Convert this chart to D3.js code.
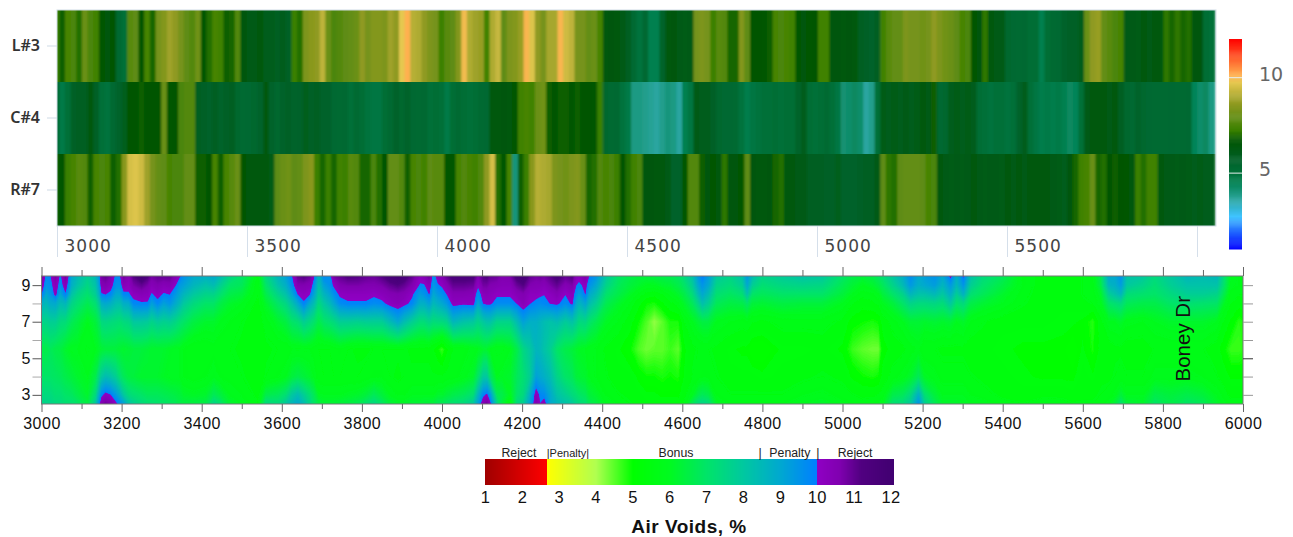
<html>
<script src='https://d3js.org/d3.v7.min.js'></script>
<style>
  body {margin:0; background:#fff;}
  svg {display:block;}
</style>
<body>
<svg class="chart" width=1293 height=537></svg>
<script>
// strip map: one value per bin along the lane, start station and bin size
var stripStart = 3000, stripStep = 14.9;
var rowNames = ["L#3", "C#4", "R#7"];
var rowL3 = [7.2,6.8,7.4,7.5,7.0,8.0,7.5,7.3,6.6,6.5,6.7,5.3,5.0,7.7,7.8,6.7,7.4,6.9,8.2,8.4,8.8,8.6,8.2,7.8,7.6,8.1,6.6,7.0,7.4,7.3,6.8,6.9,7.6,6.5,6.2,6.2,6.3,6.0,6.0,5.8,6.0,5.7,7.2,7.0,8.3,8.5,8.6,9.2,8.0,7.5,7.6,7.8,7.9,8.0,8.6,8.2,8.4,8.4,8.3,8.8,8.6,9.7,10.1,9.1,9.0,8.6,
  8.3,8.2,7.2,7.7,7.8,8.4,9.9,9.0,8.8,8.7,7.3,9.0,9.3,7.8,8.3,8.4,8.7,10.0,9.6,8.6,8.2,8.9,8.9,10.0,9.4,9.2,8.2,8.2,7.9,8.0,7.4,6.4,6.5,6.3,6.2,5.8,5.2,4.9,5.3,4.5,4.5,5.5,6.3,6.5,6.2,6.1,6.2,8.2,8.3,8.2,7.2,7.7,7.6,6.9,6.9,8.4,7.8,6.7,6.7,6.6,6.8,7.4,7.5,7.4,7.3,6.6,6.5,6.6,6.7,7.3,7.3,6.5,6.5,6.4,6.5,6.4,
  5.8,5.7,5.6,5.8,7.3,7.7,7.9,7.9,8.3,8.2,8.2,8.1,8.2,8.6,8.3,8.1,8.0,7.8,7.4,7.5,6.6,6.5,7.1,6.4,6.2,6.2,5.4,5.3,5.2,5.3,5.1,5.1,4.5,5.1,5.2,5.3,5.6,5.7,5.7,6.0,8.0,8.6,8.7,7.9,7.7,7.5,7.4,6.2,6.2,6.1,6.3,6.2,6.3,6.3,7.1,6.9,7.1,6.9,7.0,6.5,6.5,5.1,5.0];
var rowC4 = [5.3,4.7,5.0,5.7,5.8,5.8,6.3,5.7,5.0,4.9,5.3,5.5,5.9,6.7,6.7,6.8,6.7,6.7,6.7,8.0,6.6,6.7,7.5,7.6,7.6,5.8,5.7,5.6,5.8,5.5,5.7,5.8,5.4,5.2,5.3,5.4,5.5,6.3,5.5,5.4,5.6,5.7,5.5,5.6,5.9,5.7,5.8,5.6,5.6,5.3,5.2,5.3,5.0,5.2,5.1,4.9,4.8,4.8,5.1,5.3,5.6,5.4,5.5,5.3,5.2,5.3,
  5.0,5.1,5.0,4.7,5.1,5.2,5.1,5.0,5.1,5.2,5.3,6.4,6.3,6.5,6.4,6.6,7.3,7.4,7.3,8.0,8.1,6.8,6.7,6.8,6.8,6.6,6.8,6.7,6.7,6.6,7.2,5.4,5.2,5.3,4.9,4.7,3.9,3.9,3.8,3.7,3.6,3.8,4.0,3.9,3.6,4.5,4.8,6.2,6.0,6.0,5.7,5.4,5.3,5.3,5.2,4.9,4.6,4.8,4.9,5.0,5.0,5.1,5.0,5.1,5.1,5.5,6.0,5.1,5.0,5.1,5.2,5.0,4.8,4.1,4.2,4.3,
  4.2,3.6,3.8,5.0,6.1,6.0,6.1,6.0,6.2,6.0,6.1,6.3,6.2,6.8,5.3,5.4,6.0,6.1,6.0,6.1,6.0,5.1,5.0,4.9,5.0,5.0,4.9,5.0,5.5,6.0,5.0,4.8,4.6,4.7,4.6,4.7,4.5,4.3,4.4,5.0,6.2,6.3,6.4,6.3,6.2,6.3,5.8,5.4,5.3,5.5,5.4,5.3,5.2,5.2,5.2,5.3,5.2,5.2,5.3,4.4,4.2,4.3,3.9];
var rowR7 = [6.8,6.7,7.2,7.4,7.7,7.6,6.8,7.4,7.5,7.4,6.8,7.0,8.5,9.5,9.6,9.4,8.8,8.2,7.9,7.8,7.4,7.5,7.5,7.9,7.9,6.8,6.8,6.7,7.4,6.8,7.4,7.7,8.0,6.6,6.4,6.4,6.3,6.3,6.1,7.8,8.0,8.1,7.8,7.9,8.3,8.5,7.2,6.9,7.2,6.9,7.3,7.2,7.7,7.6,6.9,6.9,7.5,7.0,6.7,7.9,7.9,7.6,6.8,7.4,7.5,7.3,
  7.8,7.7,7.7,6.6,6.6,7.4,7.6,7.4,7.3,7.6,8.6,9.5,7.0,6.6,7.4,4.0,6.8,7.2,8.5,9.1,9.0,8.9,8.3,8.2,8.1,8.3,8.4,8.0,6.9,7.0,7.6,7.4,7.5,7.2,6.7,7.0,7.3,7.5,6.5,6.5,6.3,6.3,6.2,5.6,5.6,6.6,7.6,7.6,6.8,6.5,6.6,6.3,7.1,6.5,6.5,6.6,7.8,6.5,6.4,6.4,6.5,6.9,7.0,6.4,6.3,6.2,6.2,5.8,5.8,5.8,5.7,5.7,5.9,5.6,5.6,5.6,
  5.7,5.8,5.8,6.2,7.8,7.1,7.0,7.8,7.9,7.9,7.9,7.8,7.4,7.5,6.3,6.2,6.1,6.2,6.1,6.2,6.3,6.2,6.1,6.2,6.2,6.1,6.3,6.2,6.3,6.2,6.3,6.3,6.3,6.3,6.2,6.1,6.0,6.5,6.9,7.3,7.4,8.0,6.9,7.0,6.7,6.8,6.7,6.6,6.4,7.2,7.0,7.3,7.3,6.3,6.2,6.2,6.1,6.2,6.1,6.0,6.1,6.0,6.0];
var stripAxisTicks = [3000,3500,4000,4500,5000,5500,6000];
var stripBarTicks = [5,10];
var stripColorDomain = [1,2.7,3.75,4.5,5,5.6,6.2,6.7,7.2,8,8.6,9.7,10.1,12];
var stripColorRange = ["#0000ff","#40c4ff","#25a090","#008050","#007038","#00622a","#005a14","#005500","#3a8000","#6a9018","#8f9a20","#e5c850","#ffb050","#ff0000"];

// contour map: stations along the road, lateral levels, one column of values per station
var levels = [9.5,9,8.5,8,7,5.5,4,3,2.5];
var stations = [3000,3012,3022,3035,3047,3060,3075,3090,3115,3135,3145,3150,3160,3172,3185,3195,3205,3218,3230,3250,3265,3275,3290,3305,3320,3335,3345,3355,3380,3410,3430,3445,3470,3500,3540,3560,3590,3610,3625,3640,3655,3670,3680,3692,3705,3720,3730,3745,3765,3790,3810,3830,3850,3870,3890,3905,3925,3945,3955,3968,3978,3990,4000,4012,4028,4053,4078,4090,4103,4112,4120,4137,4150,4170,4187,4203,4220,4235,4245,4255,4270,4287,4308,4325,4335,4342,4358,4367,4385,4410,4440,4470,4490,4510,4530,4550,4570,4590,4605,4625,4640,4650,4665,4685,4720,4750,4762,4775,4800,4850,4900,4950,5000,5025,5050,5075,5090,5100,5125,5150,5170,5190,5205,5230,5250,5270,5285,5302,5320,5350,5400,5450,5500,5550,5575,5600,5625,5645,5665,5680,5695,5710,5750,5780,5820,5860,5900,5935,5955,5970,5990,6000];
var airVoids = [
[10.8,10.4,10,8.8,7.6,6.6,7,7.4,7.6],[9.7,9.5,9,8.5,7.6,6.6,7,7.4,7.6],[9.9,9.7,9.4,8.9,7.8,6.8,7,7.4,7.6],[10.8,10.4,10.2,9,7.8,6.6,6.9,7.2,7.4],[9.8,9.6,9,8.4,7.4,6.5,6.8,7.2,7.4],[10.9,10.4,9.9,8.6,7.3,6.2,6.6,7,7.2],[9,8.8,8.2,7.6,6.8,6,6.4,6.9,7.2],[8.5,8.2,7.6,7.2,6.5,6,6.2,6.6,7],[7.8,7.5,7.1,6.7,6,5.8,6,6.2,6.5],[8.5,8.2,7.8,7.2,6.4,6,6.6,7.4,8],
[9.6,9.3,8.8,8,6.9,6.2,7.6,9,9.8],[10.8,10.5,9.9,8.8,7.4,6.3,8,9.8,10.6],[11,10.6,10,9,7.5,6.4,8.4,10.2,10.9],[10.7,10.3,9.8,8.8,7.4,6.4,8.2,10,10.7],[9.8,9.6,9,8.4,7.3,6.4,7.8,9.4,10.2],[9.8,9.5,9,8.3,7.2,6.3,7.2,8.8,9.7],[10.9,10.4,9.8,8.8,7.4,6.2,6.8,8,9.2],[10.5,10.2,9.9,8.9,7.5,6.3,6.5,7.4,8.2],[11.2,10.7,10.2,9.8,8,6.4,6.4,7.2,7.8],[11.8,11,10.4,9.9,8,6.4,6.2,7,7.4],
[11.3,10.7,10.3,9.9,7.9,6.3,6.2,6.8,7.2],[10.8,10.4,9.9,9.2,7.6,6.2,6.2,6.8,7.2],[11,10.6,10.2,9.8,7.9,6.2,6.2,6.8,7.1],[11,10.4,9.9,9.2,7.7,6.2,6.1,6.7,7],[11,10.5,10,9.5,7.8,6.1,6,6.6,6.9],[10.5,10,9.4,8.9,7.5,6,6,6.5,6.8],[10.1,9.4,9,8.5,7.2,6,6,6.4,6.6],[9.6,9.2,8.6,8,7,5.8,5.8,6.2,6.5],[9,8.6,8,7.4,6.5,5.6,5.7,6.1,6.5],[8.8,8.2,7.6,7,6.2,5.6,5.8,6.2,6.6],
[9,8.4,7.6,7,6.2,5.7,6,6.8,7.6],[8.5,7.8,7.2,6.6,6,5.6,5.8,6.5,7.2],[7.6,7,6.6,6.2,5.8,5.6,5.7,6,6.3],[7,6.8,6.4,6,5.6,5.5,5.6,5.8,6],[5.8,5.6,5.6,5.5,5.4,5.4,5.4,5.5,5.6],[7.4,7,6.6,6.2,5.7,5.5,5.6,6.6,7.4],[8.6,8.2,7.6,7,6.2,5.6,5.8,6.8,7.4],[9.2,8.8,8.2,7.5,6.5,5.6,6,7.2,8],[9.9,9.6,9,8.2,7,5.8,6.4,8,8.6],[11,10.6,10,9,7.2,5.8,6.6,8.4,9],
[11.2,10.6,10.2,9.9,7.8,5.8,6.4,7.8,8.4],[10.9,10.5,10,8.9,7.4,5.8,6.2,7.2,7.6],[10.1,9.6,9.1,8.4,7.1,5.7,6,6.8,7],[8.6,8.2,7.9,7.4,6.6,5.6,5.7,6.1,6.5],[9.8,9.2,8.6,8,7,5.6,5.6,6,6.3],[9.6,9.6,9.1,8.5,7.2,5.6,5.6,6,6.3],[10.8,10.1,9.6,9,7.4,5.7,5.6,6,6.3],[11,10.6,10.1,9.7,7.8,5.8,5.6,6,6.4],[11.3,10.7,10.2,9.9,7.8,5.6,5.6,6.1,6.5],[11.2,10.7,10.2,9.9,7.7,5.5,5.6,6.2,6.7],
[11,10.6,10.2,9.9,7.8,5.5,5.7,6.4,7.1],[10.9,10.6,10.1,9.7,7.8,5.6,5.8,6.8,7.5],[11.2,10.7,10.3,9.8,7.8,5.6,5.8,6.4,7],[11.7,11,10.5,10.2,8.4,5.6,5.6,6,6.4],[11.9,11.2,10.6,10.4,9,5.6,5.5,5.8,6.2],[11.6,11,10.5,10.2,8.4,5.6,5.6,5.8,6.2],[11,10.6,10.1,9.8,7.8,5.5,5.6,6,6.3],[10.3,9.9,9.3,8.8,7.3,5.5,5.6,6,6.3],[10.5,9.9,9.5,8.8,7.3,5.5,5.6,6,6.4],[10.9,10.4,10,9.2,7.6,5.5,5.6,6,6.4],
[9.6,9.4,9,8.5,7.3,5.3,5.6,6,6.5],[10.4,9.9,9.4,8.8,7.4,5,5.6,6.2,6.8],[10.6,10.1,9.6,9,7.4,4.7,5.6,6.2,6.8],[11,10.5,10,9.4,7.6,5.2,5.7,6.4,7],[11.5,11,10.5,10.2,8.6,5.6,5.7,6.6,7.2],[11.5,11,10.5,10.1,8.2,5.7,5.9,6.8,7.4],[11.4,10.9,10.4,10.2,8,5.9,6.2,7.2,8],[10.6,10.1,9.6,9,7.6,6,7,8.6,9.2],[11.2,10.8,10.3,10,8,6.2,8,9.8,10.6],[11.3,10.8,10.4,10.1,8.2,6.2,8,10.1,10.9],
[11,10.6,10.3,10.1,8.2,6,7,9.4,10.2],[10.9,10.5,10.1,9.7,7.6,5.8,6,6.8,7.6],[10.6,10.4,10.1,9.7,7.6,5.8,6.1,6.6,6.4],[10.7,10.4,10.1,9.7,7.6,6,6.2,6,5.4],[11.5,10.9,10.4,10,8.4,6.6,6.8,7,7.4],[11.8,11.2,10.6,10.4,9.2,7.5,7.2,7.4,7.8],[11,10.6,10.2,10,8.8,8,7.8,8.8,9.2],[10.8,10.5,10.2,9.8,8.8,8.6,9.2,10.4,10.6],[10.9,10.5,10.1,9.7,8.6,8.5,9,9.8,10],[10.8,10.4,10,9.8,8.4,8.2,8.8,9.7,10.4],
[11.1,10.7,10.2,10,8.2,7.8,8.4,9,9],[11.5,11,10.5,10.1,8.4,7,7.6,8.2,8.6],[11,10.5,10,9.7,7.9,6.6,7,7.8,8.2],[11.2,10.7,10.3,10.1,8.2,6.4,6.8,7.4,8],[10.4,10,9.6,9,7.8,6.2,6.4,7.2,7.6],[10.3,9.8,9.2,8.6,7.4,6.1,6.3,7,7.4],[10.7,10.2,10,9.1,7.5,6,6.2,6.8,7.2],[10,9.6,9,8.4,7.1,5.9,6,6.4,6.8],[9.5,9,8.4,7.8,6.7,5.8,5.8,6.2,6.5],[8,7.6,7.1,6.7,6.1,5.5,5.6,5.8,6],
[7,6.8,6.6,6.2,5.8,5.3,5.4,5.6,5.8],[6.6,6.4,6.1,5.8,5.4,5,5.4,5.5,5.6],[6.4,6.2,5.8,5.4,5,4.6,5.2,5.4,5.5],[6.4,6,5.5,5,4.6,4.4,5,5.3,5.4],[6.5,6,5.4,4.9,4.2,4.5,5,5.3,5.4],[6.6,6.2,5.6,5.2,4.5,4.5,4.9,5.2,5.4],[6.7,6.3,5.9,5.5,4.9,4.7,5,5.2,5.4],[6.9,6.6,6.2,5.8,4.9,4.5,4.9,5.2,5.4],[7.4,7,6.6,6.2,5.6,5.2,5.3,5.5,5.7],[8.2,7.8,7.3,6.8,6,5.5,5.6,6,6.8],
[9.4,9,8.4,7.6,6.3,5.6,5.7,6.6,7.4],[10,9.5,9,8.3,6.5,5.6,5.8,6.8,7.6],[9.3,9,8.4,7.8,6.5,5.6,5.8,6.6,7.4],[8,7.6,7.2,6.8,6,5.5,5.6,5.8,6.2],[7.6,7.3,6.9,6.5,5.8,5.3,5.4,5.6,5.8],[8.2,7.8,7.2,6.6,5.7,5.2,5.4,5.6,5.8],[9.4,9,8.2,7,5.8,5.2,5.4,5.6,5.8],[8.4,7.8,7,6.4,5.6,5,5.4,5.6,5.8],[7.6,7.2,6.8,6.3,5.5,5,5.3,5.6,5.8],[7.9,7.5,7,6.5,5.7,5.3,5.4,5.6,5.8],
[8.2,7.6,7,6.4,5.7,5.3,5.5,5.8,6],[8,7.5,7,6.4,5.7,5.4,5.6,5.9,6.2],[7,6.7,6.4,6,5.5,5.2,5.5,5.7,5.9],[6.6,6.3,6,5.6,5.1,4.7,5.2,5.6,5.8],[6.4,6,5.7,5.4,5,4.5,5,5.5,5.7],[6.6,6.2,5.8,5.5,4.9,4.4,4.9,5.5,5.8],[6.9,6.5,6,5.7,5,4.4,5,5.6,5.9],[7.2,6.8,6.4,6,5.4,5.1,5.4,5.7,6],[8,7.6,7,6.4,5.7,5.4,5.7,6.6,7.2],[8.8,8.4,7.6,7,6,5.5,5.9,6.8,7.4],
[9.7,9.4,8.6,7.6,6.3,5.7,6.2,7.4,8],[9,8.8,8.2,7.4,6.3,5.9,6.8,8.8,9.6],[9.3,9,8.2,7.4,6.2,5.6,6.1,7.2,7.8],[9.6,9.3,8.5,7.5,6.3,5.6,5.9,6.4,6.8],[9,8.6,8,7.3,6.2,5.5,5.7,6,6.2],[10.2,9.4,8.8,8,6.3,5.5,5.7,6,6.2],[8.8,8.5,7.8,7.1,6,5.5,5.7,6,6.2],[10.1,9.5,8.7,7.4,6.2,5.5,5.7,6,6.1],[8.2,7.8,7.2,6.6,5.8,5.4,5.6,5.8,6],[7.4,7.1,6.8,6.3,5.6,5.4,5.5,5.7,6],
[6.8,6.5,6.2,6,5.4,5.3,5.4,5.5,5.7],[5.8,5.8,5.7,5.6,5.4,5.2,5.3,5.4,5.6],[5.4,5.4,5.4,5.4,5.4,5.2,5.2,5.5,5.8],[5.4,5.4,5.4,5.4,5.3,5.2,5.2,5.5,5.7],[5.4,5.4,5.4,5.4,5.3,5,5.2,5.4,5.6],[5.6,5.6,5.6,5.5,5.2,5.3,5.4,5.5,5.6],[5.8,5.8,5.7,5.6,4.8,4.9,5.3,5.5,5.6],[6.8,6.6,6.2,6,5.5,5.4,5.5,5.6,5.7],[9,8.6,7.8,7,6,5.4,5.5,5.7,6],[9,8.8,8.2,7.2,6,5.5,5.6,5.9,6.4],
[9.6,9.3,8.6,7.4,6.2,5.5,5.7,6.4,7.2],[8.2,8,7.3,6.8,5.9,5.4,5.6,6,6.4],[8,7.6,7.1,6.6,5.8,5.4,5.6,6,6.2],[7.4,7.2,7,6.6,6,5.6,5.9,6.6,7],[8,7.8,7.4,7,6.2,5.6,5.9,6.4,6.6],[8.6,8.2,7.8,7.2,6.2,5.6,5.9,6.6,7],[8.4,8.2,7.8,7.1,6.2,5.6,5.8,6.4,6.8],[8.6,8.2,7.6,7,6,5.4,5.6,6,6.2],[7,6.9,6.5,6,5.5,5,5.4,5.7,5.9],[6,5.9,5.7,5.6,5.2,4.7,5.2,5.5,5.7],
[5.8,5.8,5.6,5.4,4.8,4.7,5.2,5.5,5.7],[5.8,5.8,5.6,5.5,4.9,4.8,5.2,5.5,5.7]
];
var levelLabels = [3,5,7,9];
var levelTicks = [3,4,5,6,7,8,9];
var stationTicks = d3.range(3000,6001,100);

// legend under the map
var legendTicks = [1,2,3,4,5,6,7,8,9,10,11,12];
var legendZones = ["Reject","|Penalty|","Bonus","|","Penalty","|","Reject"];
var legendZoneAt = [1.92,3.25,6.18,8.46,9.27,10.03,11.04];
var voidColorDomain = [1,2.68,2.68,4,5,6,7,8,9,9.98,9.98,10.6,11.2,12.1];
var voidColorRange = ["#a00000","#ff0000","#ffff00","#b0ff50","#00ff00","#00fa20","#00e468","#00c8a0","#00a8d0","#0080ff","#9000c4","#8000b0","#500080","#400070"];

var svg = d3.select(".chart");
var defs = svg.append("defs");
defs.append("filter").attr("id","soft").attr("x","-2%").attr("width","104%")
  .append("feGaussianBlur").attr("stdDeviation","1.1 0");
defs.append("filter").attr("id","softer")
  .append("feGaussianBlur").attr("stdDeviation","0.7");
defs.append("clipPath").attr("id","stripClip").append("rect")
  .attr("x",57).attr("y",10).attr("width",1159).attr("height",216);
defs.append("clipPath").attr("id","mapClip").append("rect")
  .attr("x",41.5).attr("y",276).attr("width",1201.5).attr("height",128);

// ---------- strip map ----------
var stripColor = d3.scaleLinear().domain(stripColorDomain).range(stripColorRange);
var xStrip = d3.scaleLinear().domain([3000,6000]).range([57,1197]);
var yStrip = d3.scaleBand().domain(rowNames).range([10,226]);
var stripRows = [rowL3,rowC4,rowR7];

var stripG = svg.append("g").attr("clip-path","url(#stripClip)");
stripRows.forEach(function(row,r) {
  var g = stripG.append("g").attr("filter","url(#soft)");
  g.selectAll("rect").data(row).enter().append("rect")
    .attr("x",function(d,i){ return xStrip(stripStart + (i-0.6)*stripStep); })
    .attr("y",yStrip(rowNames[r]))
    .attr("width",xStrip(stripStart+stripStep*1.2)-xStrip(stripStart))
    .attr("height",yStrip.bandwidth())
    .attr("fill",function(d){ return stripColor(d); });
});
svg.append("rect").attr("x",57).attr("y",10).attr("width",1159).attr("height",216)
  .attr("fill","none").attr("stroke","#cfdbe6").attr("stroke-width",1);

// row labels
var rowAxis = svg.append("g").attr("transform","translate(57,0)")
  .call(d3.axisLeft(yStrip).tickSize(10).tickPadding(7));
rowAxis.select(".domain").remove();
rowAxis.selectAll("line").attr("stroke","#cfdbe6");
rowAxis.selectAll("text").attr("font-family","'Noto Sans'").attr("font-size",16)
  .attr("font-weight",600).attr("fill","#333");

// lane axis, label sits right of its tick
var stripAxis = svg.append("g").attr("transform","translate(0,226)")
  .call(d3.axisBottom(xStrip).tickValues(stripAxisTicks).tickSize(31)
    .tickFormat(function(d){ return d==6000 ? "" : d; }));
stripAxis.select(".domain").remove();
stripAxis.selectAll("line").attr("stroke","#d5dfea");
stripAxis.selectAll("text").attr("text-anchor","start").attr("x",7).attr("y",26).attr("dy",0)
  .attr("font-family","'DejaVu Sans'").attr("font-size",17).attr("letter-spacing",1).attr("fill","#444");

// colour bar
var yBar = d3.scaleLinear().domain([1,12]).range([249,39]);
var barSteps = d3.range(1,12,0.05);
svg.append("g").selectAll("rect").data(barSteps).enter().append("rect")
  .attr("x",1229).attr("width",13)
  .attr("y",function(d){ return yBar(d+0.05); })
  .attr("height",function(d){ return yBar(d)-yBar(d+0.05)+0.5; })
  .attr("fill",function(d){ return stripColor(d); });
var barAxis = svg.append("g").attr("transform","translate(1242,0)")
  .call(d3.axisRight(yBar).tickValues(stripBarTicks).tickSize(-13).tickPadding(17));
barAxis.select(".domain").remove();
barAxis.selectAll("line").attr("stroke","#e6eef0").attr("stroke-width",1);
barAxis.selectAll("text").attr("font-family","'DejaVu Sans'").attr("font-size",19).attr("fill","#666")
  .attr("transform","translate(0,-3)");

// ---------- contour map ----------
var voidColor = d3.scaleLinear().domain(voidColorDomain).range(voidColorRange);
var xMap = d3.scaleLinear().domain([3000,6000]).range([41.5,1243]);
var yMap = d3.scaleLinear().domain([2.5,9.5]).range([404,276]);

// grid index to station / level, the grid is not evenly spaced
var colToStation = d3.scaleLinear().domain(d3.range(stations.length)).range(stations);
var rowToLevel = d3.scaleLinear().domain(d3.range(levels.length)).range(levels);

var n = stations.length, m = levels.length;
var gridValues = new Array(n*m);
airVoids.forEach(function(col,i) {
  col.forEach(function(v,j) { gridValues[j*n+i] = v; });
});

var thresholds = d3.range(1,12.01,0.05);
thresholds.push(9.98);
thresholds.sort(d3.ascending);
var bands = d3.contours().size([n,m]).thresholds(thresholds)(gridValues);
var gridPath = d3.geoPath().projection(d3.geoTransform({
  point: function(x,y) {
    this.stream.point(xMap(colToStation(x-0.5)), yMap(rowToLevel(y-0.5)));
  }
}));

var mapG = svg.append("g").attr("clip-path","url(#mapClip)").append("g").attr("filter","url(#softer)");
mapG.append("rect").attr("x",30).attr("y",270).attr("width",1225).attr("height",140)
  .attr("fill",voidColor(d3.min(gridValues)));
mapG.selectAll("path").data(bands).enter().append("path")
  .attr("d",gridPath)
  .attr("fill",function(d){ return voidColor(d.value + (d.value==9.98 ? 0.001 : 0)); });

svg.append("rect").attr("x",41.5).attr("y",276).attr("width",1201.5).attr("height",128)
  .attr("fill","none").attr("stroke","#777").attr("stroke-width",1);

// station axes, long ticks on the 200s
function tickLen(d,big,small){ return (d-3000)%200==0 ? big : small; }
var mapBottom = svg.append("g").attr("transform","translate(0,404)")
  .call(d3.axisBottom(xMap).tickValues(stationTicks).tickSize(8).tickPadding(6)
    .tickFormat(function(d){ return (d-3000)%200==0 ? d : ""; }));
mapBottom.select(".domain").remove();
mapBottom.selectAll("line").attr("stroke","#666").attr("y2",function(d){ return tickLen(d,8,5); });
mapBottom.selectAll("text").attr("font-family","'Liberation Sans'").attr("font-size",16)
  .attr("letter-spacing",0.5).attr("fill","#111");

var mapTop = svg.append("g").attr("transform","translate(0,276)")
  .call(d3.axisTop(xMap).tickValues(stationTicks).tickSize(9).tickFormat(""));
mapTop.select(".domain").remove();
mapTop.selectAll("line").attr("stroke","#666").attr("y2",function(d){ return tickLen(d,-9,-6); });

var mapLeft = svg.append("g").attr("transform","translate(41.5,0)")
  .call(d3.axisLeft(yMap).tickValues(levelTicks).tickSize(9).tickPadding(2)
    .tickFormat(function(d){ return levelLabels.indexOf(d)>=0 ? d : ""; }));
mapLeft.select(".domain").remove();
mapLeft.selectAll("line").attr("stroke",function(d){ return levelLabels.indexOf(d)>=0 ? "#555" : "#aaa"; });
mapLeft.selectAll("text").attr("font-family","'Liberation Sans'").attr("font-size",16).attr("fill","#111");

var mapRight = svg.append("g").attr("transform","translate(1243,0)")
  .call(d3.axisRight(yMap).tickValues(levelTicks).tickSize(10).tickFormat(""));
mapRight.select(".domain").remove();
mapRight.selectAll("line").attr("stroke",function(d){ return d==5 ? "#333" : "#999"; });

svg.append("text").attr("transform","translate(1190,381.5) rotate(-90)")
  .attr("font-family","'Liberation Sans'").attr("font-size",20.5).attr("fill","#111")
  .text("Boney Dr");

// ---------- legend ----------
var xLegend = d3.scaleLinear().domain([1,12]).range([485,890.5]);
// one step per pixel so the ramp has no seams
var legendSteps = d3.range(1,12.08,(12-1)/(890.5-485));
svg.append("g").selectAll("rect").data(legendSteps).enter().append("rect")
  .attr("x",function(d){ return Math.round(xLegend(d)); })
  .attr("width",function(d,i){ return i==legendSteps.length-1 ? 1 : 2; })
  .attr("y",459).attr("height",26)
  .attr("fill",function(d){ return voidColor(d); });

var legendAxis = svg.append("g").attr("transform","translate(0,485)")
  .call(d3.axisBottom(xLegend).tickValues(legendTicks).tickSize(0).tickPadding(6));
legendAxis.select(".domain").remove();
legendAxis.selectAll("text").attr("font-family","'Liberation Sans'").attr("font-size",16.5)
  .attr("letter-spacing",0.3).attr("fill","#111");

svg.append("g").selectAll("text").data(legendZones).enter().append("text")
  .attr("x",function(d,i){ return xLegend(legendZoneAt[i]); })
  .attr("y",457)
  .attr("text-anchor","middle")
  .attr("font-family","'Liberation Sans'")
  .attr("font-size",function(d){ return d=="|Penalty|" ? 11 : 12.3; })
  .attr("fill","#222")
  .text(function(d){ return d; });

svg.append("text").attr("x",689).attr("y",533).attr("text-anchor","middle")
  .attr("font-family","'Liberation Sans'").attr("font-size",19).attr("font-weight","bold")
  .attr("letter-spacing",0.5).attr("fill","#111")
  .text("Air Voids, %");
</script>
</body>
</html>
